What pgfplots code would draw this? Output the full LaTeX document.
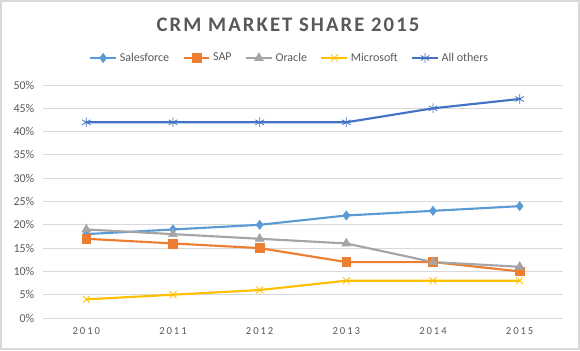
\documentclass[border=0pt]{standalone}
\usepackage{pgfplots}
\pgfplotsset{compat=1.18}
\usepackage{fontspec}
\setmainfont{Carlito}
\newfontfamily\spaced[LetterSpace=18]{Carlito}
\newfontfamily\titlefont[LetterSpace=10]{Carlito}
\definecolor{sfc}{HTML}{5B9BD5}
\definecolor{sapc}{HTML}{ED7D31}
\definecolor{orc}{HTML}{A5A5A5}
\definecolor{msc}{HTML}{FFC000}
\definecolor{aoc}{HTML}{4472C4}
\definecolor{txt}{HTML}{595959}
\definecolor{grd}{HTML}{D9D9D9}
\begin{document}
\begin{tikzpicture}[x=0.75pt,y=0.75pt]
\useasboundingbox (-43,-32) rectangle (537,318);
\draw[grd, line width=1pt] (-42,-31) rectangle (536,317);
\node[font=\titlefont\bfseries\fontsize{15.5}{18}\selectfont, text=txt] at (245,293) {CRM MARKET SHARE 2015};
\begin{axis}[
  at={(0,0)}, anchor=south west,
  scale only axis, width=390pt, height=174.75pt,
  xmin=-0.5, xmax=5.5, ymin=0, ymax=50,
  xtick={0,1,2,3,4,5},
  xticklabels={2010,2011,2012,2013,2014,2015},
  xticklabel style={font=\spaced\fontsize{8}{9}\selectfont, text=txt, yshift=-4pt},
  ytick={0,5,...,50},
  yticklabel={\pgfmathprintnumber{\tick}\%},
  yticklabel style={font=\fontsize{9}{10}\selectfont, text=txt, xshift=-3pt},
  /pgf/number format/assume math mode=true,
  major tick length=0pt,
  ymajorgrids, grid style={grd, line width=0.75pt},
  axis x line*=bottom, axis y line*=left,
  x axis line style={grd, line width=0.75pt, -},
  y axis line style={draw=none},
  legend columns=5,
  legend style={at={(0.475,1.116)}, anchor=center, draw=none, fill=none,
    font=\fontsize{9}{10}\selectfont, text=txt,
    /tikz/every even column/.append style={column sep=8pt}},
  legend image code/.code={\draw[mark repeat=2,mark phase=2] plot coordinates {(0cm,0cm) (0.34cm,0cm) (0.68cm,0cm)};},
  every axis plot/.append style={line width=1.6pt},
  clip=false,
]
\addplot[sfc, mark=diamond*, mark size=3.4pt, mark options={solid, line width=0.5pt}] coordinates {(0,18) (1,19) (2,20) (3,22) (4,23) (5,24)};
\addlegendentry{Salesforce}
\addplot[sapc, mark=square*, mark size=3.3pt, mark options={solid, line width=0.5pt}] coordinates {(0,17) (1,16) (2,15) (3,12) (4,12) (5,10)};
\addlegendentry{SAP}
\addplot[orc, mark=triangle*, mark size=3.8pt, mark options={solid, line width=0.5pt}] coordinates {(0,19) (1,18) (2,17) (3,16) (4,12) (5,11)};
\addlegendentry{Oracle}
\addplot[msc, mark=x, mark size=3.7pt, mark options={solid, line width=0.6pt}] coordinates {(0,4) (1,5) (2,6) (3,8) (4,8) (5,8)};
\addlegendentry{Microsoft}
\addplot[aoc, mark=asterisk, mark size=3.7pt, mark options={solid, line width=0.6pt}] coordinates {(0,42) (1,42) (2,42) (3,42) (4,45) (5,47)};
\addlegendentry{All others}
\end{axis}
\end{tikzpicture}
\end{document}
